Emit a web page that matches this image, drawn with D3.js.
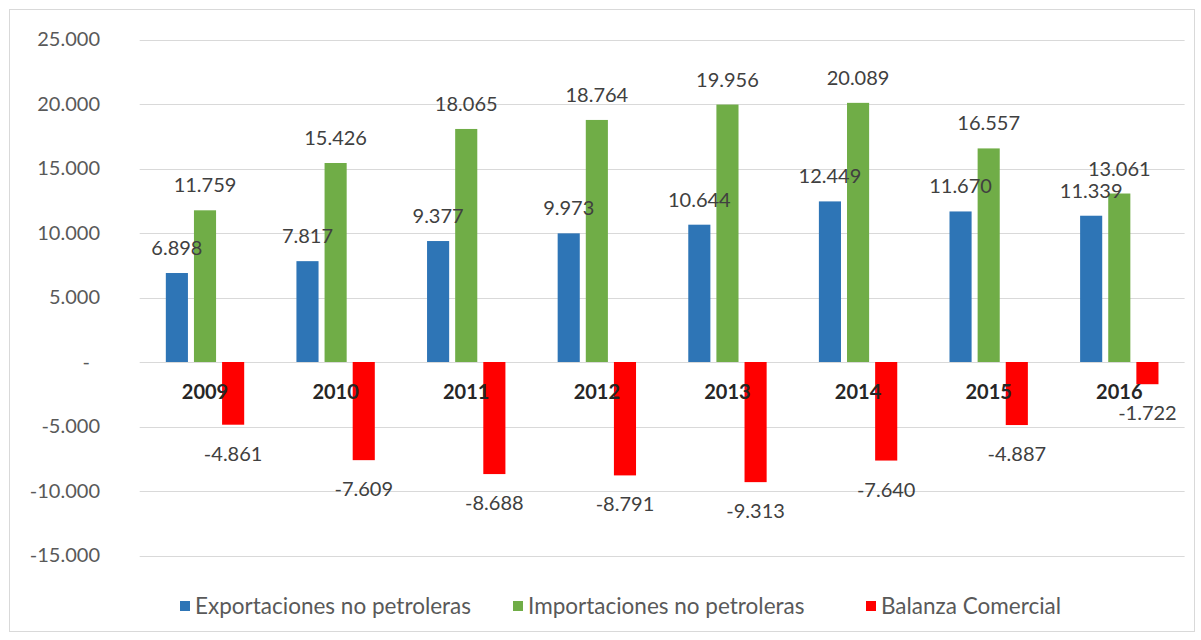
<!DOCTYPE html>
<html>
<head>
<meta charset="utf-8">
<script src="https://cdn.jsdelivr.net/npm/d3@7"></script>
<style>
  html, body { margin: 0; padding: 0; background: #fff; }
  svg { display: block; }
  text { font-family: Lato, "Open Sans", "Liberation Sans", sans-serif; }
</style>
</head>
<body>
<svg id="chart" width="1201" height="640"></svg>
<script>
// Balanza comercial no petrolera, 2009-2016 (millones)
const years = ["2009", "2010", "2011", "2012", "2013", "2014", "2015", "2016"];
const exportaciones = [6898, 7817, 9377, 9973, 10644, 12449, 11670, 11339];
const importaciones = [11759, 15426, 18065, 18764, 19956, 20089, 16557, 13061];
const balanza = [-4861, -7609, -8688, -8791, -9313, -7640, -4887, -1722];
const seriesNames = ["Exportaciones no petroleras", "Importaciones no petroleras", "Balanza Comercial"];
const yTicks = [-15000, -10000, -5000, 0, 5000, 10000, 15000, 20000, 25000];

const colors = ["#2e75b6", "#70ad47", "#ff0000"];
const seriesValues = [exportaciones, importaciones, balanza];

const locale = d3.formatLocale({ decimal: ",", thousands: ".", grouping: [3], currency: ["", ""], minus: "-" });
const fmt = locale.format(",d");

const svg = d3.select("#chart");

// outer frame
svg.append("rect").attr("x", 9.5).attr("y", 9.5).attr("width", 1185).attr("height", 622)
  .attr("fill", "#fff").attr("stroke", "#d9d9d9").attr("stroke-width", 1);

const plot = { left: 139.7, right: 1184.6, top: 39.5, bottom: 555.5 };

const y = d3.scaleLinear().domain([-15000, 25000]).range([plot.bottom, plot.top]);
const x0 = d3.scaleBand().domain(years).range([plot.left, plot.right]).paddingInner(0.4).paddingOuter(0.2);
const x1 = d3.scaleBand().domain(d3.range(seriesNames.length)).range([0, x0.bandwidth()]).paddingInner(0.214);

// gridlines
svg.append("g").selectAll("line").data(yTicks).join("line")
  .attr("x1", plot.left).attr("x2", plot.right)
  .attr("y1", d => Math.round(y(d)) + 0.5).attr("y2", d => Math.round(y(d)) + 0.5)
  .attr("stroke", "#d9d9d9").attr("stroke-width", 1);

// y axis labels
const yAxis = d3.axisLeft(y).tickValues(yTicks).tickSize(0).tickPadding(0)
  .tickFormat(d => d === 0 ? "-" : fmt(d));
const yg = svg.append("g").attr("transform", `translate(100,0)`).call(yAxis);
yg.select(".domain").remove();
yg.selectAll("text").attr("font-size", 20).attr("fill", "#595959")
  .attr("font-family", "Lato, 'Open Sans', sans-serif")
  .attr("dx", d => d === 0 ? -10 : 0);

// bars
const rows = years.map((yr, i) => ({ year: yr, vals: seriesValues.map(s => s[i]) }));
const groups = svg.append("g").selectAll("g").data(rows).join("g")
  .attr("transform", d => `translate(${x0(d.year)},0)`);

groups.selectAll("rect").data(d => d.vals.map((v, k) => ({ v, k }))).join("rect")
  .attr("x", d => x1(d.k))
  .attr("width", x1.bandwidth())
  .attr("y", d => y(Math.max(0, d.v)))
  .attr("height", d => Math.abs(y(d.v) - y(0)))
  .attr("fill", d => colors[d.k]);

// category labels (below the zero line)
svg.append("g").selectAll("text").data(years).join("text")
  .attr("x", d => x0(d) + x0.bandwidth() / 2)
  .attr("y", y(0) + 29.5)
  .attr("dy", "0.35em")
  .attr("text-anchor", "middle")
  .attr("font-size", 20).attr("font-weight", "bold").attr("fill", "#262626")
  .text(d => d);

// data labels
groups.selectAll("text.val").data(d => d.vals.map((v, k) => ({ v, k }))).join("text")
  .attr("class", "val")
  .attr("x", d => x1(d.k) + x1.bandwidth() / 2)
  .attr("y", d => d.v >= 0 ? y(d.v) - 25 : y(d.v) + 29)
  .attr("dy", "0.35em")
  .attr("text-anchor", "middle")
  .attr("font-size", 20).attr("fill", "#404040")
  .text(d => fmt(d.v));

// legend
const legendX = [180, 513, 866];
const lg = svg.append("g").selectAll("g").data(seriesNames).join("g")
  .attr("transform", (d, i) => `translate(${legendX[i]},606)`);
lg.append("rect").attr("x", 0).attr("y", -5).attr("width", 10).attr("height", 10)
  .attr("fill", (d, i) => colors[i]);
lg.append("text").attr("x", 15).attr("y", 0).attr("dy", "0.35em")
  .attr("font-size", 22.5).attr("fill", "#595959").text(d => d);
</script>
</body>
</html>
